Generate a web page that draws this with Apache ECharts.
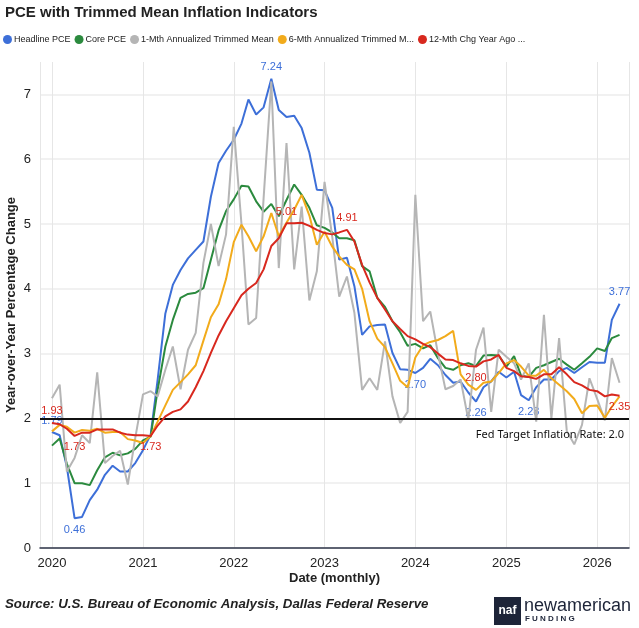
<!DOCTYPE html>
<html>
<head>
<meta charset="utf-8">
<script src="https://cdn.jsdelivr.net/npm/echarts@6/dist/echarts.min.js"></script>
<style>
  html, body { margin: 0; padding: 0; background: #fff; }
  #chart { width: 639px; height: 628px; }
</style>
</head>
<body>
<div id="chart"></div>
<script>
// monthly observations, Jan 2020 .. Apr 2026
var months = [];
for (var y = 2020; y <= 2026; y++) {
  for (var mo = 1; mo <= 12; mo++) {
    if (y === 2026 && mo > 4) break;
    months.push(y + '-' + (mo < 10 ? '0' + mo : mo) + '-01');
  }
}

var seriesNames = ['Headline PCE', 'Core PCE', '1-Mth Annualized Trimmed Mean',
  '6-Mth Annualized Trimmed Mean', '12-Mth Chg Year Ago Trimmed Mean'];
var legendText = ['Headline PCE', 'Core PCE', '1-Mth Annualized Trimmed Mean',
  '6-Mth Annualized Trimmed M...', '12-Mth Chg Year Ago ...'];

var headlinePce = [1.79, 1.74, 1.25, 0.46, 0.48, 0.74, 0.90, 1.13, 1.27, 1.18, 1.18, 1.31,
  1.51, 1.75, 2.60, 3.62, 4.06, 4.29, 4.47, 4.60, 4.73, 5.42, 5.94, 6.13,
  6.30, 6.55, 6.92, 6.69, 6.80, 7.24, 6.76, 6.65, 6.67, 6.48, 6.10, 5.53,
  5.52, 5.25, 4.45, 4.48, 4.04, 3.29, 3.42, 3.44, 3.45, 3.01, 2.76, 2.75,
  2.70, 2.78, 2.92, 2.82, 2.67, 2.55, 2.57, 2.40, 2.26, 2.48, 2.57, 2.72,
  2.63, 2.72, 2.36, 2.28, 2.48, 2.60, 2.60, 2.73, 2.78, 2.70, 2.79, 2.87,
  2.86, 2.86, 3.52, 3.77];

var corePce = [1.58, 1.69, 1.30, 1.00, 1.00, 0.97, 1.20, 1.40, 1.47, 1.43, 1.46, 1.53,
  1.66, 1.72, 2.44, 3.11, 3.52, 3.86, 3.92, 3.94, 4.01, 4.45, 4.90, 5.20,
  5.38, 5.59, 5.58, 5.35, 5.19, 5.31, 5.12, 5.37, 5.61, 5.45, 5.25, 4.98,
  4.94, 4.87, 4.78, 4.78, 4.75, 4.35, 4.27, 3.86, 3.72, 3.50, 3.33, 3.12,
  3.15, 3.08, 3.13, 2.93, 2.78, 2.75, 2.82, 2.85, 2.81, 2.97, 2.98, 2.97,
  2.80, 2.96, 2.66, 2.64, 2.78, 2.82, 2.87, 2.92, 2.83, 2.75, 2.85, 2.95,
  3.08, 3.04, 3.24, 3.29];

var trimmed1m = [2.31, 2.52, 1.18, 1.39, 1.74, 1.62, 2.71, 1.31, 1.42, 1.50, 0.98, 1.70,
  2.37, 2.42, 2.34, 2.75, 3.11, 2.45, 3.06, 3.32, 4.40, 5.00, 4.35, 4.84,
  6.50, 5.00, 3.45, 3.55, 5.40, 7.20, 4.32, 6.25, 4.30, 5.27, 3.82, 4.27,
  5.65, 4.80, 3.88, 4.19, 3.63, 2.44, 2.62, 2.44, 3.19, 2.34, 1.93, 2.10,
  5.45, 3.50, 3.65, 3.00, 2.45, 2.50, 2.60, 1.98, 3.06, 3.40, 2.10, 3.06,
  2.95, 2.85, 2.60, 2.85, 1.95, 3.60, 2.00, 3.24, 1.80, 1.60, 1.90, 2.62,
  2.30, 1.97, 2.93, 2.55];

var trimmed6m = [1.80, 1.90, 1.87, 1.78, 1.82, 1.81, 1.84, 1.78, 1.79, 1.79, 1.68, 1.66,
  1.62, 1.73, 1.95, 2.20, 2.44, 2.56, 2.68, 2.82, 3.20, 3.56, 3.76, 4.15,
  4.72, 4.99, 4.81, 4.58, 4.81, 5.17, 4.81, 5.02, 5.22, 5.45, 5.13, 4.68,
  4.88, 4.65, 4.50, 4.37, 4.30, 4.00, 3.50, 3.23, 3.10, 2.85, 2.58, 2.48,
  2.94, 3.13, 3.18, 3.21, 3.27, 3.35, 2.68, 2.52, 2.44, 2.55, 2.57, 2.70,
  2.85, 2.90, 2.80, 2.66, 2.66, 2.75, 2.62, 2.52, 2.42, 2.30, 2.08, 2.19,
  2.20, 2.01, 2.18, 2.34];

var trimmed12m = [1.93, 1.91, 1.84, 1.73, 1.78, 1.78, 1.83, 1.83, 1.83, 1.78, 1.75, 1.74,
  1.74, 1.73, 1.89, 2.03, 2.10, 2.14, 2.26, 2.48, 2.73, 3.01, 3.28, 3.50,
  3.70, 3.90, 4.00, 4.09, 4.30, 4.66, 4.78, 5.01, 5.01, 5.02, 4.97, 4.91,
  4.86, 4.84, 4.87, 4.91, 4.73, 4.37, 4.10, 3.86, 3.68, 3.50, 3.38, 3.27,
  3.22, 3.15, 3.10, 3.00, 2.91, 2.90, 2.85, 2.81, 2.80, 2.88, 2.91, 2.98,
  2.78, 2.73, 2.65, 2.64, 2.61, 2.68, 2.68, 2.79, 2.68, 2.56, 2.51, 2.44,
  2.42, 2.34, 2.37, 2.35];

var fedTarget = 2.0;
var yTicks = [0, 1, 2, 3, 4, 5, 6, 7];

// which points carry a value label
var headlineLabels = [[0, 'top'], [3, 'bottom'], [29, 'top'], [48, 'bottom'], [56, 'bottom'], [63, 'bottom'], [75, 'top']];
var trimmed12Labels = [[0, 'top'], [3, 'bottom'], [13, 'bottom'], [31, 'top'], [39, 'top'], [56, 'bottom'], [75, 'bottom']];

var colors = ['#3d6fd8', '#2b8a3e', '#b5b5b5', '#f2ab1b', '#d8281e'];

function buildData(values, labels, color) {
  var marks = {};
  labels.forEach(function (l) { marks[l[0]] = l[1]; });
  return values.map(function (v, i) {
    var item = { value: [months[i], v] };
    if (marks[i]) {
      item.label = { show: true, position: marks[i], color: color, fontSize: 11, distance: 6,
        formatter: function (p) { return p.value[1].toFixed(2); } };
    }
    return item;
  });
}

var chart = echarts.init(document.getElementById('chart'));
var allValues = [headlinePce, corePce, trimmed1m, trimmed6m, trimmed12m];
var allLabels = [headlineLabels, [], [], [], trimmed12Labels];

var series = allValues.map(function (vals, k) {
  return {
    name: seriesNames[k],
    type: 'line',
    data: buildData(vals, allLabels[k], colors[k]),
    showSymbol: true,
    symbol: 'circle',
    symbolSize: 0,
    lineStyle: { width: 2, color: colors[k] },
    itemStyle: { color: colors[k] },
    emphasis: { disabled: true },
    z: 2 + k
  };
});
// Fed target reference line
series[0].markLine = {
  silent: true,
  symbol: 'none',
  lineStyle: { color: '#111', width: 2, type: 'solid' },
  label: { show: true, position: 'insideEndBottom', color: '#111', fontSize: 11,
    fontFamily: 'Noto Sans', distance: [5, 11],
    formatter: 'Fed Target Inflation Rate: ' + fedTarget.toFixed(1) },
  data: [{ yAxis: fedTarget }]
};

var option = {
  backgroundColor: '#fff',
  animation: false,
  textStyle: { fontFamily: 'Liberation Sans, Arial, sans-serif' },
  title: {
    text: 'PCE with Trimmed Mean Inflation Indicators',
    left: 0, top: 0,
    textStyle: { fontSize: 15, fontWeight: 'bold', color: '#222' }
  },
  legend: {
    left: 3, top: 35, padding: 0,
    icon: 'circle', itemWidth: 9, itemHeight: 9, itemGap: 4,
    textStyle: { fontSize: 9, color: '#222', padding: [0, 0, 0, -3] },
    formatter: function (name) { return legendText[seriesNames.indexOf(name)]; },
    data: seriesNames
  },
  grid: { left: 40, right: 10, top: 62, bottom: 80, outerBoundsMode: 'none' },
  xAxis: {
    type: 'time',
    min: '2019-11-14',
    max: '2026-05-09',
    minInterval: 365 * 24 * 3600 * 1000,
    maxInterval: 366 * 24 * 3600 * 1000,
    name: 'Date (monthly)',
    nameLocation: 'middle',
    nameGap: 24,
    nameMoveOverlap: false,
    nameTextStyle: { fontSize: 13, fontWeight: 'bold', color: '#222' },
    axisLine: { lineStyle: { color: '#2e3448', width: 1.5 } },
    axisTick: { show: false },
    axisLabel: {
      color: '#222', fontSize: 13, margin: 9,
      formatter: function (v) { return String(new Date(v).getFullYear()); }
    },
    splitLine: { show: true, lineStyle: { color: '#e6e6e6', width: 1 } }
  },
  yAxis: {
    type: 'value',
    min: 0, max: 7.5, interval: 1,
    name: 'Year-over-Year Percentage Change',
    nameLocation: 'middle',
    nameRotate: 90,
    nameGap: 22,
    nameMoveOverlap: false,
    nameTextStyle: { fontSize: 13, fontWeight: 'bold', color: '#222' },
    axisLine: { show: false },
    axisTick: { show: false },
    axisLabel: {
      color: '#222', fontSize: 13, margin: 9,
      formatter: function (v) { return yTicks.indexOf(v) >= 0 ? String(v) : ''; }
    },
    splitLine: { lineStyle: { color: ['#ececec', '#ececec', '#ececec', '#ececec', '#ececec', '#ececec', '#ececec', '#ececec', 'rgba(0,0,0,0)'], width: 1.5 } }
  },
  series: series,
  graphic: [
    {
      type: 'text', left: 5, top: 598,
      style: { text: 'Source: U.S. Bureau of Economic Analysis, Dallas Federal Reserve',
        font: 'italic bold 13.3px Liberation Sans, Arial, sans-serif', fill: '#222' }
    },
    {
      type: 'group', left: 494, top: 597,
      children: [
        { type: 'rect', shape: { x: 0, y: 0, width: 27, height: 28 }, style: { fill: '#1d2438' } },
        { type: 'text', x: 13.5, y: 14, style: { text: 'naf', font: 'bold 12px Liberation Sans, Arial, sans-serif',
          fill: '#fff', align: 'center', verticalAlign: 'middle' } },
        { type: 'text', x: 30, y: 0, style: { text: 'newamerican', font: '18px Liberation Sans, Arial, sans-serif', fill: '#1d2438' } },
        { type: 'text', x: 31, y: 18, style: { text: 'F U N D I N G', font: 'bold 8px Liberation Sans, Arial, sans-serif', fill: '#1d2438' } }
      ]
    }
  ]
};

chart.setOption(option);
</script>
</body>
</html>
